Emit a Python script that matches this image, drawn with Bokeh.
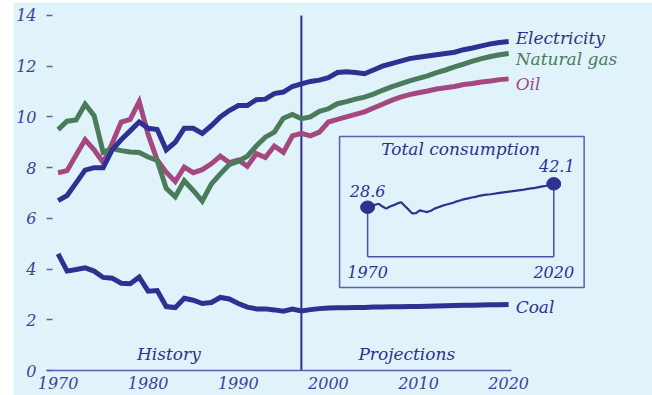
from bokeh.plotting import figure
from bokeh.models import Range1d, FixedTicker
from bokeh.core.properties import value
from bokeh.embed import file_html
from bokeh.resources import INLINE

# ---------------- data ----------------
years = list(range(1970, 2021))

electricity = [6.7, 6.9, 7.4, 7.9, 8.0, 8.0, 8.7, 9.1, 9.45, 9.8,
               9.55, 9.5, 8.7, 9.0, 9.55, 9.55, 9.35, 9.65, 10.0, 10.25,
               10.45, 10.45, 10.68, 10.7, 10.92, 10.98, 11.2, 11.3, 11.4, 11.45,
               11.55, 11.75, 11.78, 11.75, 11.7, 11.85, 12.0, 12.1, 12.2, 12.3,
               12.35, 12.4, 12.45, 12.5, 12.55, 12.65, 12.72, 12.8, 12.88, 12.93,
               12.97]

natural_gas = [9.5, 9.83, 9.88, 10.5, 10.05, 8.6, 8.75, 8.67, 8.62, 8.6,
               8.42, 8.28, 7.18, 6.85, 7.48, 7.1, 6.68, 7.35, 7.75, 8.12,
               8.25, 8.45, 8.85, 9.2, 9.4, 9.95, 10.1, 9.93, 10.0, 10.22,
               10.32, 10.52, 10.6, 10.7, 10.78, 10.9, 11.05, 11.18, 11.3, 11.42,
               11.52, 11.62, 11.75, 11.85, 11.97, 12.08, 12.2, 12.3, 12.38, 12.45,
               12.5]

oil = [7.8, 7.88, 8.5, 9.1, 8.7, 8.2, 8.95, 9.8, 9.9, 10.6,
       9.3, 8.3, 7.82, 7.45, 8.02, 7.8, 7.92, 8.15, 8.45, 8.2,
       8.3, 8.05, 8.55, 8.4, 8.85, 8.6, 9.25, 9.35, 9.25, 9.4,
       9.8, 9.9, 10.0, 10.1, 10.2, 10.35, 10.5, 10.65, 10.78, 10.88,
       10.95, 11.02, 11.1, 11.15, 11.2, 11.28, 11.32, 11.38, 11.42, 11.47,
       11.5]

coal = [4.6, 3.92, 3.98, 4.05, 3.92, 3.67, 3.64, 3.44, 3.42, 3.68,
        3.13, 3.15, 2.52, 2.48, 2.85, 2.77, 2.64, 2.68, 2.88, 2.82,
        2.64, 2.5, 2.43, 2.43, 2.39, 2.34, 2.42, 2.35, 2.4, 2.44,
        2.46, 2.47, 2.47, 2.48, 2.48, 2.5, 2.5, 2.51, 2.51, 2.52,
        2.52, 2.53, 2.54, 2.55, 2.56, 2.57, 2.57, 2.58, 2.59, 2.59,
        2.6]

total_consumption = [28.6, 29.3, 30.0, 30.6, 29.0, 27.8, 29.0, 29.8, 30.8, 31.5,
                     29.3, 27.2, 25.0, 25.2, 26.8, 26.3, 25.8, 26.6, 27.8, 28.6,
                     29.4, 30.0, 30.6, 31.2, 32.0, 32.6, 33.3, 33.7, 34.2, 34.6,
                     35.2, 35.6, 35.9, 36.1, 36.4, 36.7, 37.0, 37.3, 37.6, 37.9,
                     38.2, 38.5, 38.8, 39.2, 39.5, 39.8, 40.2, 40.6, 41.0, 41.5,
                     42.1]

x_ticks = [1970, 1980, 1990, 2000, 2010, 2020]
y_ticks = [0, 2, 4, 6, 8, 10, 12, 14]
last_history_year = 1997
series_names = ["Electricity", "Natural gas", "Oil", "Coal"]
inset_title = "Total consumption"

# ---------------- style ----------------
BG = "#e0f3fa"
DARK = "#2e3192"
GREEN = "#4a7b5b"
PINK = "#a64880"
TICK_TXT = "#3d419b"
AXIS = "#5a5fb0"
FONT = "DejaVu Serif"

p = figure(width=639, height=393, margin=(2, 0, 0, 13),
           output_backend="svg", toolbar_location=None,
           x_range=Range1d(1968.714, 2035.967), y_range=Range1d(0, 14.196),
           min_border_left=27, min_border_right=0, min_border_top=8, min_border_bottom=25,
           background_fill_color=BG, border_fill_color=BG, outline_line_color=None)
p.extra_x_ranges = {"inset": Range1d(1883.75, 2046.52)}
p.extra_y_ranges = {"inset": Range1d(-65.61, 142.12)}
p.grid.visible = False

xa = p.xaxis[0]
xa.ticker = FixedTicker(ticks=x_ticks)
xa.bounds = (1968.714, 2020.36)
xa.major_tick_in = 0
xa.major_tick_out = 0
xa.minor_tick_line_color = None
xa.axis_line_color = AXIS
xa.axis_line_width = 1.5
xa.major_label_standoff = 6
xa.major_label_text_font = FONT
xa.major_label_text_font_style = "italic"
xa.major_label_text_font_size = "16px"
xa.major_label_text_color = TICK_TXT

ya = p.yaxis[0]
ya.ticker = FixedTicker(ticks=y_ticks)
ya.axis_line_color = None
ya.major_tick_in = 6
ya.major_tick_out = 0
ya.major_tick_line_color = AXIS
ya.major_tick_line_width = 1.5
ya.minor_tick_line_color = None
ya.major_label_standoff = 10
ya.major_label_text_font = FONT
ya.major_label_text_font_style = "italic"
ya.major_label_text_font_size = "16px"
ya.major_label_text_color = TICK_TXT

# divider between history and projections
p.segment(x0=[last_history_year], y0=[y_ticks[0]], x1=[last_history_year], y1=[y_ticks[-1]],
          line_color=DARK, line_width=2)

# main series
for vals, col in [(oil, PINK), (natural_gas, GREEN), (electricity, DARK), (coal, DARK)]:
    p.line(years, vals, line_color=col, line_width=5, line_join="miter")

# series labels at right
label_offsets = [-4, 5, 5, 2]
label_colors = [DARK, GREEN, PINK, DARK]
for name, vals, col, off in zip(series_names, [electricity, natural_gas, oil, coal], label_colors, label_offsets):
    p.text(x=[years[-1]], y=[vals[-1]], text=[name], x_offset=7, y_offset=off,
           text_font=value(FONT), text_font_style="italic", text_font_size="17px",
           text_color=col, text_baseline="alphabetic", text_align="left")

# History / Projections
p.text(x=[1982.3, 2008.7], y=[0, 0], text=["History", "Projections"], y_offset=-17,
       text_font=value(FONT), text_font_style="italic", text_font_size="17px",
       text_color=DARK, text_baseline="alphabetic", text_align="center")

# ---------------- inset ----------------
R = dict(x_range_name="inset", y_range_name="inset")
p.quad(left=[1962.47], right=[2028.16], top=[69.42], bottom=[-17.71],
       fill_color=None, line_color=AXIS, line_width=1.5, **R)
x0, x1 = years[0], years[-1]
v0, v1 = total_consumption[0], total_consumption[-1]
p.segment(x0=[x0, x0, x1], y0=[0, 0, 0], x1=[x0, x1, x1], y1=[v0, 0, v1],
          line_color="#4a50a8", line_width=1.5, **R)
p.line(years, total_consumption, line_color=DARK, line_width=2.2, **R)
p.ellipse(x=[x0, x1], y=[v0, v1], width=14, height=12.5, width_units="screen",
          height_units="screen", fill_color=DARK, line_color=DARK, **R)
p.text(x=[(x0 + x1) / 2], y=[v1], text=[inset_title], y_offset=-35,
       text_font=value(FONT), text_font_style="italic", text_font_size="17px",
       text_color=DARK, text_baseline="alphabetic", text_align="center", **R)
p.text(x=[x0, x1], y=[v0, v1], text=[f"{v0:.1f}", f"{v1:.1f}"], x_offset=[0, 3], y_offset=[-16, -18],
       text_font=value(FONT), text_font_style="italic", text_font_size="16px",
       text_color=DARK, text_baseline="alphabetic", text_align="center", **R)
p.text(x=[x0, x1], y=[0, 0], text=[str(x0), str(x1)], y_offset=15,
       text_font=value(FONT), text_font_style="italic", text_font_size="16px",
       text_color=DARK, text_baseline="alphabetic", text_align="center", **R)

open("out.html", "w").write(file_html(p, INLINE))
